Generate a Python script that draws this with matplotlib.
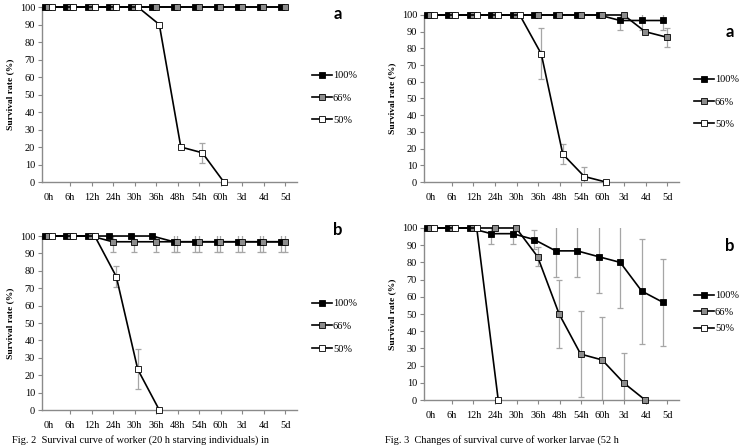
import matplotlib
matplotlib.use("Agg")
import matplotlib.pyplot as plt
import numpy as np

nan = np.nan

# time points (categories)
labels = ['0h', '6h', '12h', '24h', '30h', '36h', '48h', '54h', '60h', '3d', '4d', '5d']
series_names = ['100%', '66%', '50%']

# Fig. 2a
a1_100 = [100] * 12
a1_66 = [100] * 12
a1_50 = [100, 100, 100, 100, 100, 90, 20, 16.7, 0, nan, nan, nan]
a1_100_err = [0] * 12
a1_66_err = [0] * 12
a1_50_err = [0, 0, 0, 0, 0, 0, 0, 5.8, 0, 0, 0, 0]

# Fig. 3a
a2_100 = [100, 100, 100, 100, 100, 100, 100, 100, 100, 96.7, 96.7, 96.7]
a2_66 = [100, 100, 100, 100, 100, 100, 100, 100, 100, 100, 90, 86.7]
a2_50 = [100, 100, 100, 100, 100, 76.7, 16.7, 3.3, 0, nan, nan, nan]
a2_100_err = [0, 0, 0, 0, 0, 0, 0, 0, 0, 5.8, 5.8, 5.8]
a2_66_err = [0, 0, 0, 0, 0, 0, 0, 0, 0, 0, 0, 5.8]
a2_50_err = [0, 0, 0, 0, 0, 15.3, 5.8, 5.8, 0, 0, 0, 0]

# Fig. 2b
b1_100 = [100, 100, 100, 100, 100, 100, 96.7, 96.7, 96.7, 96.7, 96.7, 96.7]
b1_66 = [100, 100, 100, 96.7, 96.7, 96.7, 96.7, 96.7, 96.7, 96.7, 96.7, 96.7]
b1_50 = [100, 100, 100, 76.7, 23.3, 0, nan, nan, nan, nan, nan, nan]
b1_100_err = [0, 0, 0, 0, 0, 0, 5.8, 5.8, 5.8, 5.8, 5.8, 5.8]
b1_66_err = [0, 0, 0, 5.8, 5.8, 5.8, 5.8, 5.8, 5.8, 5.8, 5.8, 5.8]
b1_50_err = [0, 0, 0, 5.8, 11.5, 0, 0, 0, 0, 0, 0, 0]

# Fig. 3b
b2_100 = [100, 100, 100, 96.7, 96.7, 93.3, 86.7, 86.7, 83.3, 80, 63.3, 56.7]
b2_66 = [100, 100, 100, 100, 100, 83.3, 50, 26.7, 23.3, 10, 0, nan]
b2_50 = [100, 100, 100, 0, nan, nan, nan, nan, nan, nan, nan, nan]
b2_100_err = [0, 0, 0, 5.8, 5.8, 5.8, 15.3, 15.3, 20.8, 26.5, 30.5, 25.2]
b2_66_err = [0, 0, 0, 0, 0, 5.5, 20, 25.2, 25.2, 17.3, 0, 0]
b2_50_err = [0] * 12

face_colors = ['black', '#8c8c8c', 'white']
offsets = [-0.18, -0.02, 0.15]

serif = 'Liberation Serif'
fig = plt.figure(figsize=(7.44, 4.46), dpi=100)

panels = [
    ([0.0565, 0.5919, 0.3427, 0.3924], (a1_100, a1_66, a1_50), (a1_100_err, a1_66_err, a1_50_err),
     'a', (338, 14), (312, 71), 1.25),
    ([0.5699, 0.5919, 0.3427, 0.3745], (a2_100, a2_66, a2_50), (a2_100_err, a2_66_err, a2_50_err),
     'a', (730, 32), (694, 75), 1.25),
    ([0.0565, 0.0807, 0.3427, 0.3901], (b1_100, b1_66, b1_50), (b1_100_err, b1_66_err, b1_50_err),
     'b', (338, 230), (312, 299), 1.3),
    ([0.5699, 0.1031, 0.3427, 0.3857], (b2_100, b2_66, b2_50), (b2_100_err, b2_66_err, b2_50_err),
     'b', (730, 246), (694, 291), 0.7),
]

x = np.arange(len(labels))
for rect, ys, errs, tag, tagpos, legpos, lspace in panels:
    ax = fig.add_axes(rect)
    handles = []
    for k in range(3):
        xs = x + offsets[k]
        y = np.array(ys[k], dtype=float)
        e = np.array(errs[k], dtype=float)
        m = (e > 0) & ~np.isnan(y)
        if m.any():
            ax.errorbar(xs[m], y[m], yerr=e[m], fmt='none', ecolor='#a6a6a6',
                        elinewidth=0.9, capsize=2.2, capthick=0.9, zorder=1)
        h, = ax.plot(xs, y, color='black', lw=1.2, marker='s', ms=4.6,
                     mfc=face_colors[k], mec='black', mew=0.6, clip_on=False,
                     zorder=3 + k, label=series_names[k])
        handles.append(h)

    ax.set_xlim(-0.3, 11.55)
    ax.set_ylim(0, 100)
    ax.set_yticks(np.arange(0, 101, 10))
    ax.set_xticks(x)
    ax.set_xticklabels(labels, fontfamily=serif, fontsize=7.5)
    for t in ax.get_yticklabels():
        t.set_fontfamily(serif)
        t.set_fontsize(7.5)
    ax.xaxis.get_major_ticks()[0].tick1line.set_visible(False)
    ax.tick_params(axis='both', color='#888888', length=3, width=0.8, pad=2)
    ax.tick_params(axis='x', pad=5)
    for s in ['top', 'right']:
        ax.spines[s].set_visible(False)
    for s in ['left', 'bottom']:
        ax.spines[s].set_color('#8a8a8a')
        ax.spines[s].set_linewidth(1.0)
    ax.set_ylabel('Survival rate (%)', fontfamily=serif, fontsize=6.8,
                  fontweight='bold', labelpad=4)

    fig.text(tagpos[0] / 744, 1 - tagpos[1] / 446, tag, fontfamily='Lato',
             fontweight='bold', fontsize=12, ha='center', va='center')
    fig.legend(handles=handles, loc='upper left',
               bbox_to_anchor=(legpos[0] / 744, 1 - legpos[1] / 446),
               frameon=False, borderpad=0, borderaxespad=0, handlelength=1.9,
               handletextpad=0.1, labelspacing=lspace,
               prop={'family': serif, 'size': 7.5})

# figure captions (cut off in the source image; kept small so they fit)
fig.text(12 / 744, 1 - 445 / 446, 'Fig. 2  Survival curve of worker (20 h starving individuals) in',
         fontfamily=serif, fontsize=7.5, va='bottom', ha='left')
fig.text(385 / 744, 1 - 445 / 446, 'Fig. 3  Changes of survival curve of worker larvae (52 h',
         fontfamily=serif, fontsize=7.5, va='bottom', ha='left')

fig.savefig('out.png', dpi=100)
